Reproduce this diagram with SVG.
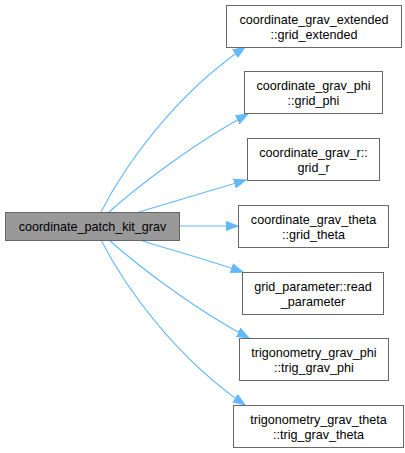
<svg xmlns="http://www.w3.org/2000/svg" width="405" height="453" viewBox="0 0 405 453">
<style>
.n{fill:#ffffff;stroke:#666666;stroke-width:1}
.r{fill:#999999;stroke:#666666;stroke-width:1}
text{font-family:"Liberation Sans",Arial,sans-serif;font-size:12.6px;fill:#000000;text-anchor:middle}
.e{fill:none;stroke:#63b8ff;stroke-width:1.1}
</style>
<defs>
<marker id="a" markerUnits="userSpaceOnUse" markerWidth="14" markerHeight="12" refX="12" refY="6" orient="auto">
<path d="M0,1.5 L12,6 L0,10.5 Z" fill="#63b8ff" stroke="#63b8ff" stroke-width="1"/>
</marker>
</defs>
<g id="edges">
<path class="e" marker-end="url(#a)" d="M101,212 C125,165 175,95 245,47"/>
<path class="e" marker-end="url(#a)" d="M109,212 C145,180 200,140 248,114"/>
<path class="e" marker-end="url(#a)" d="M139,212 C175,201 210,191 246,180"/>
<path class="e" marker-end="url(#a)" d="M179,226 L238,226"/>
<path class="e" marker-end="url(#a)" d="M139,240 C175,251 210,261 243,272"/>
<path class="e" marker-end="url(#a)" d="M109,240 C145,272 200,312 249,338"/>
<path class="e" marker-end="url(#a)" d="M101,240 C125,287 175,357 245,405"/>
</g>
<g id="root">
<rect class="r" x="5.5" y="212.5" width="174" height="28"/>
<text x="92.5" y="231">coordinate_patch_kit_grav</text>
</g>
<g id="n1">
<rect class="n" x="226.5" y="5.5" width="175" height="42"/>
<text x="314" y="23.5">coordinate_grav_extended</text>
<text x="314" y="38.5">::grid_extended</text>
</g>
<g id="n2">
<rect class="n" x="244.5" y="71.5" width="138" height="42"/>
<text x="313.5" y="89.5">coordinate_grav_phi</text>
<text x="313.5" y="104.5">::grid_phi</text>
</g>
<g id="n3">
<rect class="n" x="247.5" y="138.5" width="132" height="42"/>
<text x="313.5" y="156.5">coordinate_grav_r::</text>
<text x="313.5" y="171.5">grid_r</text>
</g>
<g id="n4">
<rect class="n" x="238.5" y="205.5" width="150" height="42"/>
<text x="313.5" y="223.5">coordinate_grav_theta</text>
<text x="313.5" y="238.5">::grid_theta</text>
</g>
<g id="n5">
<rect class="n" x="242.5" y="272.5" width="141" height="42"/>
<text x="313" y="290.5">grid_parameter::read</text>
<text x="313" y="305.5">_parameter</text>
</g>
<g id="n6">
<rect class="n" x="239.5" y="338.5" width="149" height="42"/>
<text x="314" y="356.5">trigonometry_grav_phi</text>
<text x="314" y="371.5">::trig_grav_phi</text>
</g>
<g id="n7">
<rect class="n" x="233.5" y="405.5" width="170" height="42"/>
<text x="318.5" y="423.5">trigonometry_grav_theta</text>
<text x="318.5" y="438.5">::trig_grav_theta</text>
</g>
</svg>
